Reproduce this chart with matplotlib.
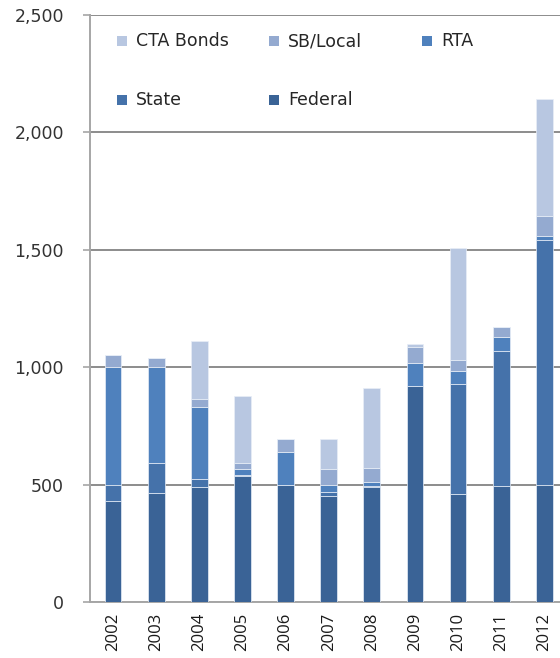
import matplotlib
matplotlib.use("Agg")
import matplotlib.pyplot as plt
from matplotlib.patches import Rectangle
import numpy as np

# Capital funding by source, 2002-2012 ($ millions)
years = ["2002", "2003", "2004", "2005", "2006", "2007", "2008", "2009", "2010", "2011", "2012"]
federal = [430, 465, 490, 535, 500, 450, 490, 920, 460, 495, 500]
state = [70, 125, 35, 5, 0, 18, 5, 0, 470, 575, 1040]
rta = [500, 410, 305, 25, 140, 32, 17, 100, 55, 60, 20]
sb_local = [52, 40, 33, 26, 53, 65, 57, 68, 45, 40, 85]
cta_bonds = [0, 0, 250, 288, 0, 130, 344, 12, 477, 0, 497]

series = [
    ("Federal", federal, "#3A6396"),
    ("State", state, "#4572AA"),
    ("RTA", rta, "#4F81BD"),
    ("SB/Local", sb_local, "#94AAD0"),
    ("CTA Bonds", cta_bonds, "#B8C7E1"),
]

plt.rcParams["font.family"] = ["DejaVu Sans"]
W, H = 560, 658
fig = plt.figure(figsize=(W / 100, H / 100), dpi=100)
ax = fig.add_axes([90.2 / W, 56 / H, 477 / W, 587 / H])

x = np.arange(len(years))
bottom = np.zeros(len(years))
for name, vals, color in series:
    v = np.array(vals, dtype=float)
    ax.bar(x, v, 0.39, bottom=bottom, color=color, edgecolor="#e8eef7",
           linewidth=0.5, zorder=3)
    bottom += v

ax.set_xlim(-0.53, 10.53)
ax.set_ylim(0, 2500)
ax.set_yticks(np.arange(0, 2501, 500))
ax.set_yticklabels([f"{t:,}" for t in range(0, 2501, 500)])
ax.set_xticks(x)
ax.set_xticklabels(years, rotation=90, family="Open Sans", fontsize=12)

ax.grid(axis="y", color="#8c8c8c", linewidth=1.4, zorder=0)
ax.set_axisbelow(True)
for s in ("top", "right"):
    ax.spines[s].set_visible(False)
ax.spines["left"].set_color("#a6a6a6")
ax.spines["left"].set_linewidth(1.4)
ax.spines["bottom"].set_color("#a6a6a6")
ax.spines["bottom"].set_linewidth(1.4)

ax.tick_params(axis="y", length=5, width=1.2, color="#a6a6a6", pad=14,
               labelsize=12.5, labelcolor="#333333")
ax.tick_params(axis="x", length=0, pad=8, labelcolor="#1a1a1a")

# Legend laid out in a 3-column grid at the top of the plot
col_x = [117, 269, 422]
row_y = [41, 100]
order = ["CTA Bonds", "SB/Local", "RTA", "State", "Federal"]
colors = {n: c for n, _, c in series}
for i, name in enumerate(order):
    cx = col_x[i % 3]
    cy = row_y[i // 3]
    fig.patches.append(Rectangle((cx / W, 1 - (cy + 5) / H), 10 / W, 10 / H,
                                 transform=fig.transFigure, facecolor=colors[name],
                                 edgecolor="none"))
    fig.text((cx + 19) / W, 1 - cy / H, name, fontsize=12.5, color="#262626",
             va="center", ha="left")

fig.savefig("out.png", dpi=100)
